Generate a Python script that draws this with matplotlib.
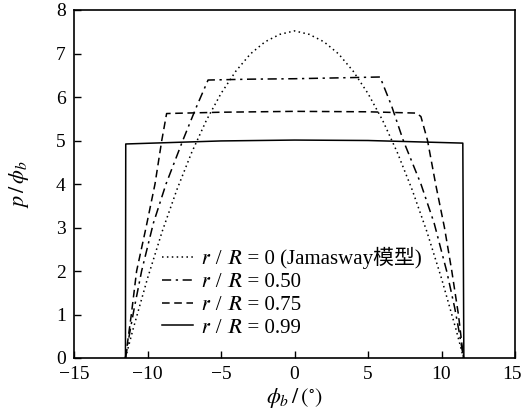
import matplotlib
matplotlib.use("Agg")
import matplotlib.pyplot as plt
from matplotlib.transforms import ScaledTranslation

plt.rcParams['font.family'] = ['Liberation Serif', 'STIXGeneral', 'Noto Sans CJK SC']
plt.rcParams['mathtext.fontset'] = 'stix'

# r/R = 0 (Jamasway model), parabolic pressure profile
phi_jam = [-11.5, -11, -10, -9, -8, -7, -6, -5, -4, -3, -2, -1, 0,
           1, 2, 3, 4, 5, 6, 7, 8, 9, 10, 11, 11.5]
p_jam = [0, 0.64, 1.83, 2.91, 3.87, 4.72, 5.46, 6.08, 6.59, 6.99, 7.27, 7.44, 7.52,
         7.44, 7.27, 6.99, 6.59, 6.08, 5.46, 4.72, 3.87, 2.91, 1.83, 0.64, 0]

# r/R = 0.50
phi_050 = [-11.5, -11.2, -10.9, -10.4, -9.6, -8.74, -7.6, -6.7, -5.88,
           -3, 0, 3, 5.82, 6.6, 7.4, 8.6, 9.5, 10.35, 10.9, 11.2, 11.5]
p_050 = [0, 0.6, 1.15, 2.0, 3.1, 4.0, 5.0, 5.75, 6.39,
         6.41, 6.42, 6.44, 6.46, 5.8, 5.0, 4.0, 3.1, 2.0, 1.15, 0.6, 0]

# r/R = 0.75
phi_075 = [-11.5, -11.1, -10.74, -10.1, -9.49, -9.03, -8.7,
           -5, 0, 5, 8.3, 8.6, 9.05, 9.6, 10.2, 10.7, 11.15, 11.5]
p_075 = [0, 1.0, 2.0, 3.0, 4.0, 5.0, 5.62,
         5.65, 5.67, 5.66, 5.63, 5.55, 5.0, 4.0, 3.0, 2.0, 1.0, 0]

# r/R = 0.99
phi_099 = [-11.5, -11.48, -5, 0, 5, 11.45, 11.52]
p_099 = [0, 4.92, 4.99, 5.01, 5.0, 4.94, 0]

# italic r and R from the math-italic block so the CJK fallback still works
labels = ['\U0001D45F / \U0001D445 = 0 (Jamasway模型)',
          '\U0001D45F / \U0001D445 = 0.50',
          '\U0001D45F / \U0001D445 = 0.75',
          '\U0001D45F / \U0001D445 = 0.99']

fig = plt.figure(figsize=(5.23, 4.16), dpi=100)
ax = fig.add_axes([74 / 523, 1 - 358 / 416, 441 / 523, 348 / 416])

lw = 1.1
ax.plot(phi_jam, p_jam, color='black', lw=lw, linestyle=(0, (1, 2.2)), label=labels[0])
ax.plot(phi_050, p_050, color='black', lw=lw, linestyle=(0, (6, 3, 1.5, 3)), label=labels[1])
ax.plot(phi_075, p_075, color='black', lw=lw, linestyle=(0, (5, 3)), label=labels[2])
ax.plot(phi_099, p_099, color='black', lw=lw, linestyle='-', label=labels[3])

ax.set_xlim(-15, 15)
ax.set_ylim(0, 8)
ax.set_xticks([-15, -10, -5, 0, 5, 10, 15])
ax.set_yticks(range(0, 9))
ax.tick_params(direction='in', length=5, width=1, labelsize=14, pad=6)
for s in ax.spines.values():
    s.set_linewidth(1.2)

# pull the last x tick label in a touch so it stays inside the figure
last = ax.get_xticklabels()[-1]
last.set_transform(last.get_transform() + ScaledTranslation(-3 / 100, 0, fig.dpi_scale_trans))

ax.set_xlabel(r'$\phi_b\,/\,(^{\circ})$', fontsize=16, labelpad=2)
ax.set_ylabel(r'$p\,/\,\phi_b$', fontsize=16, labelpad=18)

ax.legend(loc='upper left', bbox_to_anchor=(0.2, 0.318), frameon=False,
          fontsize=15, handlelength=1.5, handletextpad=0.4,
          labelspacing=0.15, borderpad=0, borderaxespad=0)

fig.savefig('out.png', dpi=100)
